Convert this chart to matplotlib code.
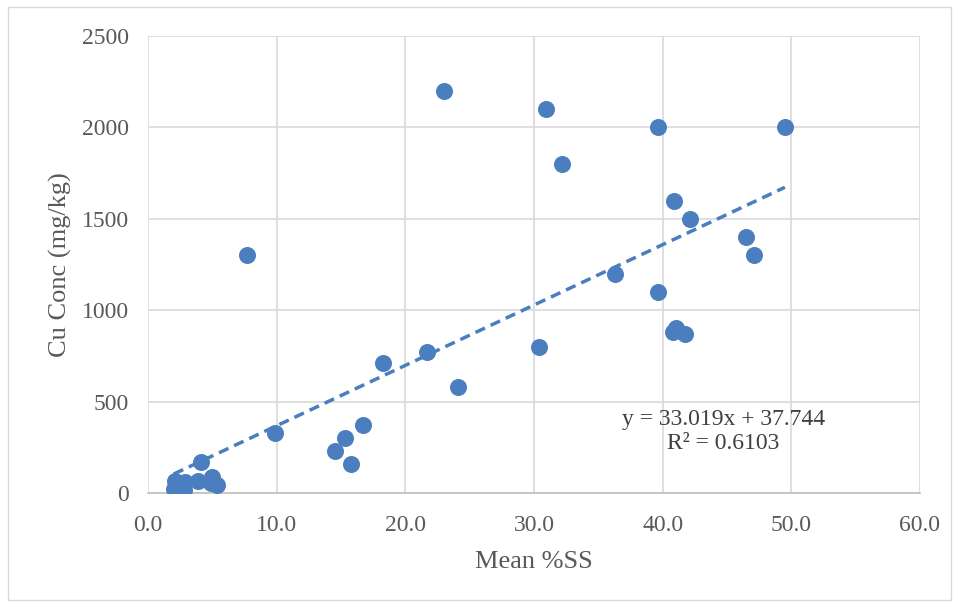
import matplotlib.pyplot as plt
from matplotlib.patches import Rectangle

plt.rcParams['font.family'] = ['Liberation Serif', 'DejaVu Serif']

# Mean %SS vs Cu concentration
mean_ss = [7.7, 23.0, 30.9, 39.6, 49.5, 32.2, 40.9, 42.1, 46.5, 47.1,
           36.3, 39.6, 41.0, 40.8, 41.7, 30.4, 21.7, 18.3, 24.1, 16.7,
           9.9, 15.3, 14.5, 15.8, 4.1, 5.0, 3.9, 2.9, 2.1, 5.4, 2.0, 2.8, 2.6, 4.9]
cu_conc = [1300, 2200, 2100, 2000, 2000, 1800, 1600, 1500, 1400, 1300,
           1200, 1100, 900, 880, 870, 800, 770, 710, 580, 370,
           330, 300, 230, 160, 170, 85, 65, 60, 65, 45, 20, 15, 40, 55]

slope = 33.019
intercept = 37.744
r2 = 0.6103

fig = plt.figure(figsize=(9.59, 6.07), dpi=100)
ax = fig.add_axes([148 / 959, 1 - 493 / 607, 772 / 959, 457 / 607])

ax.scatter(mean_ss, cu_conc, s=150, color='#4A7EBF', zorder=3, linewidths=0)

x0, x1 = min(mean_ss), max(mean_ss)
ax.plot([x0, x1], [slope * x0 + intercept, slope * x1 + intercept],
        linestyle=(0, (3, 1.8)), color='#4A7EBF', linewidth=2.5, zorder=2)

ax.text(44.7, 336, f'y = {slope}x + {intercept}\nR² = {r2}', ha='center', va='center',
        fontsize=17, color='#404040', linespacing=1.15)

ax.set_xlim(0, 60)
ax.set_ylim(0, 2500)
ax.set_xticks(range(0, 61, 10))
ax.set_xticklabels([f'{v:.1f}' for v in range(0, 61, 10)])
ax.set_yticks(range(0, 2501, 500))
ax.grid(True, color='#D9D9D9', linewidth=1.2)
ax.set_axisbelow(True)
for side in ['top', 'right', 'left']:
    ax.spines[side].set_visible(False)
ax.spines['bottom'].set_color('#BFBFBF')
ax.spines['bottom'].set_linewidth(1.2)
ax.tick_params(length=0, labelsize=17, colors='#595959')
ax.tick_params(axis='x', pad=16)
ax.tick_params(axis='y', pad=14)

ax.set_xlabel('Mean %SS', fontsize=19, color='#595959', labelpad=11)
ax.set_ylabel('Cu Conc (mg/kg)', fontsize=19, color='#595959', labelpad=7)

fig.patches.append(Rectangle((8 / 959, 7 / 607), 943 / 959, 593 / 607, transform=fig.transFigure,
                             fill=False, edgecolor='#D9D9D9', linewidth=1))

fig.savefig('out.png', dpi=100)
